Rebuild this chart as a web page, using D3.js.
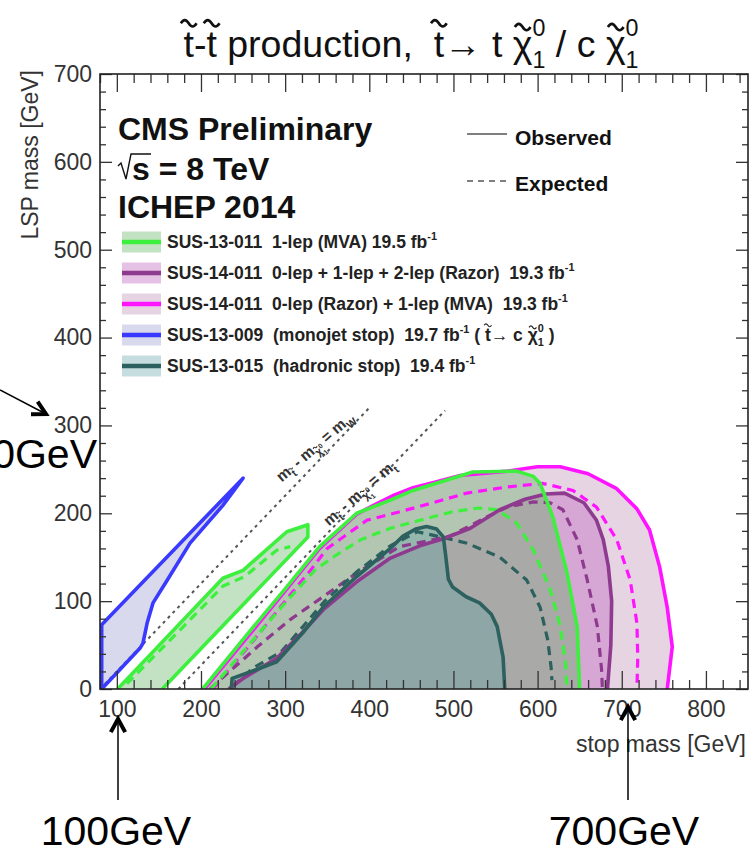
<!DOCTYPE html>
<html>
<head>
<meta charset="utf-8">
<script src="https://cdn.jsdelivr.net/npm/d3@7"></script>
<style>
  body { margin: 0; background: #fff; }
  svg { display: block; }
</style>
</head>
<body>
<svg id="chart" width="752" height="854"></svg>
<script>
// ---------- data (GeV) ----------
const xMajorTicks = [100, 200, 300, 400, 500, 600, 700, 800];
const yMajorTicks = [0, 100, 200, 300, 400, 500, 600, 700];

// SUS-13-009 monojet stop (stop -> c chi0), observed
const monojetObs = [[82,0],[82,73],[250,240],[226,209],[187,166],[160,124],[143,98],[136,75],[131,52],[128,47],[82,0]];

// SUS-13-011 1-lep (MVA): compressed strip and main region
const oneLepStripObs = [[101,0],[226,126],[250,135],[302,179],[327,187],[327,173],[154,0]];
const oneLepStripExp = [[112,6],[176,68],[226,117],[252,128],[290,158],[306,162]];
const oneLepObs = [[202,0],[260,68],[300,114],[341,162],[385,200],[425,215],[452,226],[496,239],[523,247],[575,248],[595,242],[603,234],[618,196],[635,132],[647,71],[650,0]];
const oneLepExp = [[212,0],[255,48],[300,98],[335,135],[360,152],[390,170],[425,183],[460,192],[500,202],[530,206],[552,204],[575,189],[595,158],[615,113],[627,71],[633,30],[635,0]];

// SUS-14-011 0-lep + 1-lep + 2-lep (Razor)
const razorObs = [[233,0],[250,12],[290,35],[320,64],[345,90],[385,122],[425,149],[460,163],[488,171],[520,183],[555,204],[585,216],[610,222],[632,223],[655,212],[670,192],[678,170],[684,140],[688,100],[687,50],[683,0]];
const razorExp = [[211,0],[220,8],[267,48],[306,79],[345,105],[385,132],[436,162],[496,174],[540,196],[564,207],[595,213],[615,212],[630,204],[647,170],[659,124],[671,71],[676,22],[677,0]];

// SUS-14-011 0-lep (Razor) + 1-lep (MVA)
const razorMvaObs = [[204,0],[262,67],[302,114],[341,160],[385,199],[409,211],[430,221],[452,229],[480,236],[508,243],[564,248],[600,253],[627,253],[660,245],[694,228],[718,205],[733,181],[745,139],[754,93],[760,48],[754,0]];
const razorMvaExp = [[214,0],[258,50],[300,100],[330,135],[350,160],[397,192],[457,207],[516,223],[564,230],[606,234],[642,226],[670,207],[694,170],[710,124],[718,75],[719,36],[718,0]];

// SUS-13-015 hadronic stop
const hadronicObs = [[236,0],[237,12],[260,20],[290,31],[321,64],[345,93],[385,128],[400,140],[425,160],[440,174],[455,182],[468,185],[480,182],[488,173],[491,150],[494,125],[499,116],[515,105],[531,98],[545,85],[552,71],[559,36],[561,0]];
const hadronicExp = [[238,3],[262,24],[295,42],[322,72],[347,100],[386,134],[425,163],[457,179],[485,173],[516,166],[555,150],[587,124],[603,93],[612,56],[616,25],[617,10]];

// kinematic boundaries m(stop) - m(LSP) = m(W), m(top)
const mWLine = [[80,0],[400,320]];
const mTopLine = [[173,0],[490,317]];

// legend labels (rich-text segments)
const legendLabels = [
  ["SUS-13-011  1-lep (MVA) 19.5 fb", {s:"-1", y:-0.45, k:0.62}],
  ["SUS-14-011  0-lep + 1-lep + 2-lep (Razor)  19.3 fb", {s:"-1", y:-0.45, k:0.62}],
  ["SUS-14-011  0-lep (Razor) + 1-lep (MVA)  19.3 fb", {s:"-1", y:-0.45, k:0.62}],
  ["SUS-13-009  (monojet stop)  19.7 fb", {s:"-1", y:-0.45, k:0.62}, " ( ", {s:"t", tl:true}, "\u2192 c ", {s:"\u03c7", tl:true, th:0.78}, {s:"0", y:-0.5, k:0.62, adv:false}, {s:"1", y:0.3, k:0.62}, " )"],
  ["SUS-13-015  (hadronic stop)  19.4 fb", {s:"-1", y:-0.45, k:0.62}]
];

// ---------- drawing ----------
const FONT = "'Liberation Sans', Arial, Helvetica, 'DejaVu Sans', sans-serif";
const svg = d3.select("#chart");
svg.append("rect").attr("width", 752).attr("height", 854).attr("fill", "#fff");

const x = d3.scaleLinear().domain([80, 850]).range([100, 748]);
const y = d3.scaleLinear().domain([0, 700]).range([689, 74]);

const style = {
  green:   {line: "#3ef03e", fill: "rgba(90,175,90,0.36)"},
  purple:  {line: "#8e3a8e", fill: "rgba(190,100,190,0.40)"},
  magenta: {line: "#ff14ff", fill: "rgba(200,160,192,0.45)"},
  blue:    {line: "#3a3aff", fill: "rgba(170,170,215,0.45)"},
  teal:    {line: "#2d615f", fill: "rgba(95,160,165,0.36)"}
};

// rich text: plain strings or {s, y(em), k(scale), tl(tilde), adv}
function rich(parent, segs, o) {
  const g = parent.append("g");
  const fs = o.size, fw = o.weight || "normal", col = o.color || "#111";
  let cx = 0;
  const put = (str, px, py, size) => g.append("text")
    .attr("x", px).attr("y", py)
    .attr("font-family", FONT).attr("font-size", size)
    .attr("font-weight", fw).attr("fill", col)
    .style("white-space", "pre").text(str);
  segs.forEach(seg => {
    if (typeof seg === "string") {
      cx += put(seg, cx, 0, fs).node().getComputedTextLength();
      return;
    }
    const k = seg.k || 1, sz = fs * k, yy = (seg.y || 0) * fs;
    const w = put(seg.s, cx, yy, sz).node().getComputedTextLength();
    if (seg.tl) {
      const tw = sz * 0.42, th = sz * 0.085;
      const ty = yy - (seg.th || 0.9) * sz;
      const x0 = cx + w / 2 - tw / 2;
      g.append("path")
        .attr("d", `M${x0},${ty} q${tw/4},${-2*th} ${tw/2},0 t${tw/2},0`)
        .attr("fill", "none").attr("stroke", col)
        .attr("stroke-width", Math.max(1, sz * 0.07));
    }
    if (seg.adv !== false) cx += w;
  });
  return {g, width: cx};
}

// clip to frame
svg.append("clipPath").attr("id", "plotclip").append("rect")
  .attr("x", x.range()[0]).attr("y", y.range()[1])
  .attr("width", x.range()[1] - x.range()[0]).attr("height", y.range()[0] - y.range()[1]);
const plot = svg.append("g").attr("clip-path", "url(#plotclip)");

const line = d3.line().x(d => x(d[0])).y(d => y(d[1]));
const area = pts => line(pts) + "Z";

// filled regions
[[razorMvaObs, "magenta"], [razorObs, "purple"], [oneLepStripObs, "green"],
 [oneLepObs, "green"], [monojetObs, "blue"], [hadronicObs, "teal"]].forEach(([pts, c]) => {
  plot.append("path").attr("d", area(pts)).attr("fill", style[c].fill).attr("stroke", "none");
});

// kinematic lines
[mWLine, mTopLine].forEach(pts => {
  plot.append("path").attr("d", line(pts)).attr("fill", "none")
    .attr("stroke", "#555").attr("stroke-width", 2).attr("stroke-dasharray", "3,4");
});

// expected (dashed)
[[razorMvaExp, "magenta"], [razorExp, "purple"], [oneLepExp, "green"],
 [oneLepStripExp, "green"], [hadronicExp, "teal"]].forEach(([pts, c]) => {
  plot.append("path").attr("d", line(pts)).attr("fill", "none")
    .attr("stroke", style[c].line).attr("stroke-width", 3.2).attr("stroke-dasharray", "9,6");
});

// observed (solid)
[[razorMvaObs, "magenta"], [razorObs, "purple"], [oneLepObs, "green"],
 [oneLepStripObs, "green"], [monojetObs, "blue"], [hadronicObs, "teal"]].forEach(([pts, c]) => {
  plot.append("path").attr("d", line(pts)).attr("fill", "none")
    .attr("stroke", style[c].line).attr("stroke-width", 3.6).attr("stroke-linejoin", "round");
});

// labels along kinematic lines
const slopeDeg = -41;
function lineLabel(segs, gx, gy) {
  const r = rich(svg, segs, {size: 15.5, weight: "bold", color: "#333"});
  r.g.attr("transform", `translate(${x(gx)},${y(gy)}) rotate(${slopeDeg})`);
}
const mSub = (s) => ({s, y: 0.3, k: 0.7, tl: true, th: 0.85});
lineLabel(["m", mSub("t"), " - m", mSub("\u03c7"), {s:"0", y:0.0, k:0.45, adv:false}, {s:"1", y:0.55, k:0.45}, " = m", {s:"W", y:0.3, k:0.7}], 296, 235);
lineLabel(["m", mSub("t"), " - m", mSub("\u03c7"), {s:"0", y:0.0, k:0.45, adv:false}, {s:"1", y:0.55, k:0.45}, " = m", {s:"t", y:0.3, k:0.7}], 352, 185);

// ---------- axes ----------
const minorX = d3.range(80, 851, 20).filter(v => v % 100 !== 0);
const minorY = d3.range(0, 701, 20).filter(v => v % 100 !== 0);
function styleAxis(g) {
  g.select(".domain").remove();
  g.selectAll("line").attr("stroke", "#333").attr("stroke-width", 1.3);
  g.selectAll("text").attr("font-family", FONT).attr("font-size", 23).attr("fill", "#333");
}
const xb = y(0), xt = y(700), yl = x(80), yr = x(850);
svg.append("g").attr("transform", `translate(0,${xb})`)
  .call(d3.axisBottom(x).tickValues(xMajorTicks).tickSizeInner(-18).tickSizeOuter(0).tickPadding(12).tickFormat(d3.format("d"))).call(styleAxis);
svg.append("g").attr("transform", `translate(0,${xb})`)
  .call(d3.axisBottom(x).tickValues(minorX).tickSizeInner(-9).tickSizeOuter(0).tickFormat("")).call(styleAxis);
svg.append("g").attr("transform", `translate(0,${xt})`)
  .call(d3.axisTop(x).tickValues(xMajorTicks).tickSizeInner(-18).tickSizeOuter(0).tickFormat("")).call(styleAxis);
svg.append("g").attr("transform", `translate(0,${xt})`)
  .call(d3.axisTop(x).tickValues(minorX).tickSizeInner(-9).tickSizeOuter(0).tickFormat("")).call(styleAxis);
svg.append("g").attr("transform", `translate(${yl},0)`)
  .call(d3.axisLeft(y).tickValues(yMajorTicks).tickSizeInner(-12).tickSizeOuter(0).tickPadding(8).tickFormat(d3.format("d"))).call(styleAxis);
svg.append("g").attr("transform", `translate(${yl},0)`)
  .call(d3.axisLeft(y).tickValues(minorY).tickSizeInner(-6).tickSizeOuter(0).tickFormat("")).call(styleAxis);
svg.append("g").attr("transform", `translate(${yr},0)`)
  .call(d3.axisRight(y).tickValues(yMajorTicks).tickSizeInner(-12).tickSizeOuter(0).tickFormat("")).call(styleAxis);
svg.append("g").attr("transform", `translate(${yr},0)`)
  .call(d3.axisRight(y).tickValues(minorY).tickSizeInner(-6).tickSizeOuter(0).tickFormat("")).call(styleAxis);

svg.append("rect").attr("x", yl).attr("y", xt).attr("width", yr - yl).attr("height", xb - xt)
  .attr("fill", "none").attr("stroke", "#222").attr("stroke-width", 1.6);

// axis titles
svg.append("text").attr("x", 746).attr("y", 752).attr("text-anchor", "end")
  .attr("font-family", FONT).attr("font-size", 23).attr("fill", "#333").text("stop mass [GeV]");
svg.append("text").attr("transform", "translate(38,70) rotate(-90)").attr("text-anchor", "end")
  .attr("font-family", FONT).attr("font-size", 23).attr("fill", "#333").text("LSP mass [GeV]");

// title
const title = rich(svg, [{s:"t", tl:true}, "-", {s:"t", tl:true}, " production,  ", {s:"t", tl:true},
  "\u2192 t ", {s:"\u03c7", tl:true, th:0.8}, {s:"0", y:-0.55, k:0.62, adv:false}, {s:"1", y:0.3, k:0.62},
  " / c ", {s:"\u03c7", tl:true, th:0.8}, {s:"0", y:-0.55, k:0.62, adv:false}, {s:"1", y:0.3, k:0.62}],
  {size: 37.5, color: "#111"});
title.g.attr("transform", `translate(${411 - title.width / 2},57)`);

// CMS labels
const bold = (t, px, py, size) => svg.append("text").attr("x", px).attr("y", py)
  .attr("font-family", FONT).attr("font-weight", "bold").attr("font-size", size).attr("fill", "#111").text(t);
bold("CMS Preliminary", 118, 140, 32);
svg.append("path").attr("d", "M118,166 L121,163 L126,179 L131,154 L151,154")
  .attr("fill", "none").attr("stroke", "#111").attr("stroke-width", 1.4);
bold("s = 8 TeV", 132, 180, 32);
bold("ICHEP 2014", 118, 218, 32);

// observed / expected key
svg.append("line").attr("x1", 467).attr("x2", 507).attr("y1", 134).attr("y2", 134)
  .attr("stroke", "#555").attr("stroke-width", 1.6);
svg.append("line").attr("x1", 467).attr("x2", 507).attr("y1", 181).attr("y2", 181)
  .attr("stroke", "#555").attr("stroke-width", 1.6).attr("stroke-dasharray", "6,5");
bold("Observed", 515, 145, 21);
bold("Expected", 515, 191, 21);

// legend
const legendColors = ["green", "purple", "magenta", "blue", "teal"];
legendLabels.forEach((segs, i) => {
  const cy = 242 + i * 31;
  const c = style[legendColors[i]];
  svg.append("rect").attr("x", 122).attr("y", cy - 10.5).attr("width", 39).attr("height", 21).attr("fill", c.fill);
  svg.append("line").attr("x1", 122).attr("x2", 161).attr("y1", cy).attr("y2", cy)
    .attr("stroke", c.line).attr("stroke-width", 4.5);
  const r = rich(svg, segs, {size: 17.5, weight: "bold", color: "#222"});
  r.g.attr("transform", `translate(167,${cy + 6})`);
});

// annotations
const note = (t, px, py, anchor) => svg.append("text").attr("x", px).attr("y", py).attr("text-anchor", anchor)
  .attr("font-family", FONT).attr("font-size", 41).attr("fill", "#000").text(t);
note("300GeV", 97, 468, "end");
note("100GeV", 116, 845, "middle");
note("700GeV", 624, 845, "middle");

function arrow(x1, y1, x2, y2) {
  svg.append("line").attr("x1", x1).attr("y1", y1).attr("x2", x2).attr("y2", y2)
    .attr("stroke", "#000").attr("stroke-width", 1.5);
  const a = Math.atan2(y2 - y1, x2 - x1), L = 15, s = 0.5;
  const p1 = [x2 - L * Math.cos(a - s), y2 - L * Math.sin(a - s)];
  const p2 = [x2 - L * Math.cos(a + s), y2 - L * Math.sin(a + s)];
  svg.append("path").attr("d", `M${p1}L${x2},${y2}L${p2}`).attr("fill", "none")
    .attr("stroke", "#000").attr("stroke-width", 4).attr("stroke-linejoin", "miter");
}
arrow(0, 390, 46, 414);
arrow(118, 800, 118, 719);
arrow(628, 800, 628, 707);
</script>
</body>
</html>
